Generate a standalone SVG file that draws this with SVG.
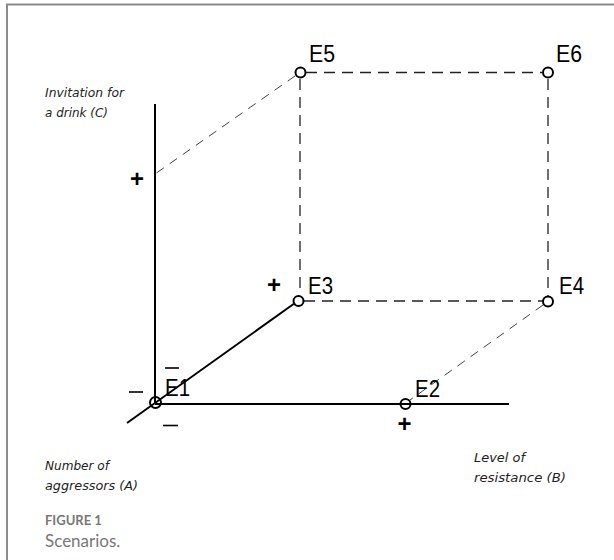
<svg xmlns="http://www.w3.org/2000/svg" width="614" height="560" viewBox="0 0 614 560">
<style>
.axis{stroke:#000;stroke-width:2;fill:none}
.dash{stroke:#222;stroke-width:1.3;fill:none;stroke-dasharray:11 7}
.dashd{stroke:#444;stroke-width:1;fill:none;stroke-dasharray:9 7}
.pt{stroke:#000;stroke-width:2;fill:none}
.lab{font-family:"Liberation Sans",Arial,sans-serif;font-size:23.5px;fill:#000}
.sign{font-family:"Liberation Sans",Arial,sans-serif;font-weight:bold;font-size:24px;fill:#000}
.hand{font-family:"DejaVu Sans",sans-serif;font-style:italic;font-size:12.5px;fill:#222}
.cap1{font-family:Lato,"Liberation Sans",sans-serif;font-weight:bold;font-size:13px;fill:#777}
.cap2{font-family:Lato,"Liberation Sans",sans-serif;font-size:17px;fill:#777}
</style>
<rect width="614" height="560" fill="#fff"/>
<path d="M7,560 V4.5 H614" fill="none" stroke="#8a8a8a" stroke-width="2"/>
<g id="connectors">
<line class="axis" x1="155" y1="104" x2="155" y2="403"/>
<line class="axis" x1="155" y1="404" x2="509" y2="404"/>
<line class="axis" x1="127" y1="423" x2="295" y2="303"/>
<line class="dash" x1="306" y1="72.5" x2="542" y2="72.5"/>
<line class="dash" x1="300" y1="79" x2="300" y2="295"/>
<line class="dash" x1="548" y1="79" x2="548" y2="296"/>
<line class="dash" x1="304" y1="301" x2="543" y2="301"/>
<line class="dashd" x1="543" y1="305" x2="410" y2="400"/>
<line class="dashd" x1="295" y1="76" x2="155" y2="174"/>
</g>
<g id="E1"><circle class="pt" cx="155.5" cy="402.5" r="5.5"/><text class="lab" x="165" y="396" textLength="25" lengthAdjust="spacingAndGlyphs">E1</text></g>
<g id="E2"><circle class="pt" cx="405.5" cy="404" r="5"/><text class="lab" x="415" y="397" textLength="25" lengthAdjust="spacingAndGlyphs">E2</text></g>
<g id="E3"><circle class="pt" cx="298.5" cy="301" r="5"/><text class="lab" x="308" y="293.5" textLength="25" lengthAdjust="spacingAndGlyphs">E3</text></g>
<g id="E4"><circle class="pt" cx="548" cy="301.5" r="5"/><text class="lab" x="559" y="293.5" textLength="25" lengthAdjust="spacingAndGlyphs">E4</text></g>
<g id="E5"><circle class="pt" cx="300.5" cy="72.5" r="5"/><text class="lab" x="309" y="62" textLength="26" lengthAdjust="spacingAndGlyphs">E5</text></g>
<g id="E6"><circle class="pt" cx="548" cy="72.5" r="5"/><text class="lab" x="556" y="62" textLength="26" lengthAdjust="spacingAndGlyphs">E6</text></g>
<g id="signs">
<text class="sign" x="137" y="186.5" text-anchor="middle">+</text>
<text class="sign" x="274" y="293" text-anchor="middle">+</text>
<text class="sign" x="404.5" y="431.5" text-anchor="middle">+</text>
<line x1="129" y1="392" x2="143" y2="392" stroke="#000" stroke-width="1.6"/>
<line x1="165" y1="368" x2="179" y2="368" stroke="#000" stroke-width="1.6"/>
<line x1="163" y1="425.5" x2="178" y2="425.5" stroke="#000" stroke-width="1.6"/>
</g>
<g id="axis-labels">
<text class="hand" x="45" y="97" textLength="79" lengthAdjust="spacingAndGlyphs">Invitation for</text>
<text class="hand" x="45" y="117" textLength="63" lengthAdjust="spacingAndGlyphs">a drink (C)</text>
<text class="hand" x="45" y="470" textLength="64" lengthAdjust="spacingAndGlyphs">Number of</text>
<text class="hand" x="45" y="490" textLength="93" lengthAdjust="spacingAndGlyphs">aggressors (A)</text>
<text class="hand" x="474" y="462" textLength="51" lengthAdjust="spacingAndGlyphs">Level of</text>
<text class="hand" x="474" y="482" textLength="92" lengthAdjust="spacingAndGlyphs">resistance (B)</text>
</g>
<g id="caption">
<text class="cap1" x="45" y="525">FIGURE 1</text>
<text class="cap2" x="45" y="547">Scenarios.</text>
</g>
</svg>
